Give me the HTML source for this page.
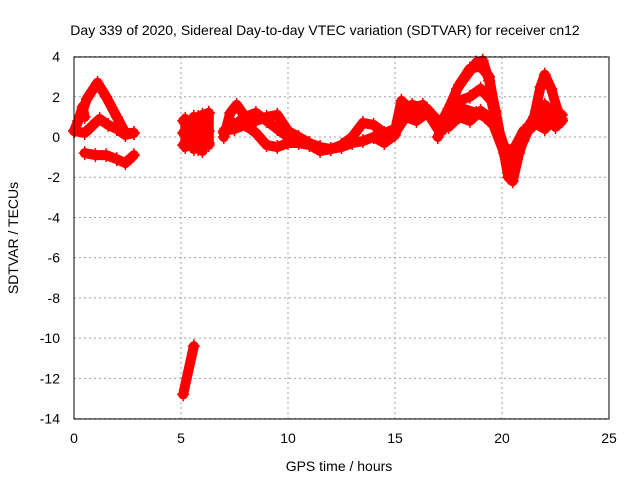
<!DOCTYPE html>
<html><head><meta charset="utf-8"><style>
body{margin:0;background:#fff}
svg{display:block;font-family:"Liberation Sans",sans-serif}
</style></head><body>
<svg id="chart" width="640" height="480">
<rect width="640" height="480" fill="#fff"/>
<text x="325" y="35" font-size="14" text-anchor="middle">Day 339 of 2020, Sidereal Day-to-day VTEC variation (SDTVAR) for receiver cn12</text>
<text x="339" y="471" font-size="14" text-anchor="middle">GPS time / hours</text>
<text transform="translate(18,238) rotate(-90)" font-size="14" text-anchor="middle">SDTVAR / TECUs</text>
<g id="grid"></g><g id="marks"></g>
<rect x="74" y="57" width="535" height="362" fill="none" stroke="#000" stroke-width="1"/>
</svg>
<script>
const xTicks=[0,5,10,15,20,25];
const yTicks=[4,2,0,-2,-4,-6,-8,-10,-12,-14];
const trackNames=['early-upper','early-middle','early-lower','early-spike','block-upper','block-lower','block-mid','day-upper','day-lower','late-upper','late-second','late-lower','outlier','block-v1','block-v2','block-v3','block-v4','day-mid','late-mid','late-third'];
const trackHours=[
[0.3,0.6,1.1,1.5,2.0,2.4,2.8],
[0,0.5,0.8,1.2,1.6,2.0,2.4,2.8],
[0.5,1.0,1.5,2.0,2.4,2.8],
[0,0.2,0.4,0.5],
[5.1,5.5,5.8,6.3],
[5.1,5.5,5.8,6.3],
[5.1,5.6,6.3],
[7.0,7.3,7.6,8.0,8.5,9.0,9.5,10.0,10.5,11,11.5,12,12.5,13,13.5,14,14.5,15],
[7.0,7.5,8.0,8.5,9.0,9.5,10.0,10.5,11,11.5,12,12.5,13,13.5,14,14.5,15],
[15,15.3,15.7,16.3,16.8,17.2,17.5,17.9,18.3,18.8,19.1,19.4,19.7,20.0,20.4,20.6,21.0,21.5,21.8,22.0,22.3,22.6,22.8],
[17.0,17.5,18,18.5,19.0,19.4,19.8,20.2,20.6,21,21.5,22,22.5],
[15,15.5,16,16.5,17,17.5,18,18.5,19,19.5,20,20.3,20.5,20.8,21.2,21.5,22,22.5,22.8],
[5.1,5.6],
[5.2,5.2],[5.6,5.6],[6.0,6.0],[6.3,6.3],
[7.0,7.5,8.0,8.5,9.0,9.5,10.0,10.5],
[15,15.5,16,16.5,17,17.5,18,18.5,19,19.5,20,20.5,21,21.5,22,22.5,22.8],
[15.2,15.8,16.4,17,17.6,18.2,18.8,19.2,19.6,20.1,20.5,20.9,21.4,21.9,22.4,22.8]];
const trackValues=[
[1.0,1.9,2.7,2.0,1.0,0.2,0.2],
[0.3,0.2,0.5,0.9,0.6,0.4,0.1,0.2],
[-0.8,-0.9,-0.9,-1.1,-1.3,-0.9],
[0.3,0.8,1.5,1.0],
[0.8,0.5,1.0,1.2],
[-0.4,-0.2,-0.6,-0.3],
[0.2,0.3,0.3],
[0,1.2,1.6,1.0,0.8,1.0,1.1,0.3,0,-0.3,-0.5,-0.6,-0.4,0,0.7,0.6,0.2,0.4],
[0.3,0.4,0.6,0.2,-0.4,-0.5,-0.3,-0.3,-0.4,-0.7,-0.6,-0.5,-0.3,-0.2,0,-0.3,0.1],
[0.3,1.8,1.4,1.6,0.8,0.3,1.0,2.4,3.0,3.7,3.8,2.8,1.3,-0.4,-1.5,-1.2,-0.2,1.0,2.5,3.1,2.4,1.3,0.8],
[0,1.4,2.6,3.4,3.5,3.0,0.5,-0.8,-0.5,0.3,0.7,0.4,1.0],
[0.2,1.0,0.8,1.2,0.5,0.5,1.0,0.8,1.3,0.9,-0.3,-2.0,-2.2,-0.8,0.5,0.8,1.2,0.5,0.8],
[-12.8,-10.4],
[-0.5,0.9],[-0.6,1.0],[-0.7,1.1],[-0.4,1.2],
[0.2,0.6,1.0,1.2,0.8,0.4,0,-0.2],
[0.4,1.4,1.1,1.4,0.8,1.0,1.8,2.0,2.4,1.8,-0.4,-0.8,0.1,0.6,1.6,1.0,1.1],
[0.6,1.6,1.4,0.4,1.6,1.4,1.2,1.0,0.6,-0.8,-1.0,0,0.8,0.9,0.8,0.9]];
const X=h=>74+h*535/25, Y=v=>137-v*362/18;
const NS='http://www.w3.org/2000/svg';
const grid=document.getElementById('grid'), marks=document.getElementById('marks'), svg=document.getElementById('chart');
xTicks.forEach(t=>{
 const l=document.createElementNS(NS,'line');
 
 
 l.setAttribute('x1',X(t));l.setAttribute('x2',X(t));l.setAttribute('y1',57);l.setAttribute('y2',419);
 l.setAttribute('stroke','#a0a0a0');l.setAttribute('stroke-dasharray','2,3');grid.appendChild(l);
 const s=document.createElementNS(NS,'text');
 
 
 s.setAttribute('x',X(t));s.setAttribute('y',443);s.setAttribute('font-size','14');s.setAttribute('text-anchor','middle');
 s.textContent=t;svg.appendChild(s);
});
yTicks.forEach(t=>{
 const l=document.createElementNS(NS,'line');
 
 
 l.setAttribute('x1',74);l.setAttribute('x2',609);l.setAttribute('y1',Y(t));l.setAttribute('y2',Y(t));
 l.setAttribute('stroke','#a0a0a0');l.setAttribute('stroke-dasharray','2,3');grid.appendChild(l);
 const s=document.createElementNS(NS,'text');
 
 
 s.setAttribute('x',60);s.setAttribute('y',Y(t)+5);s.setAttribute('font-size','14');s.setAttribute('text-anchor','end');
 s.textContent=t;svg.appendChild(s);
});
trackHours.forEach((hs,i)=>{
 const vs=trackValues[i];
 const p=document.createElementNS(NS,'polyline');
 
 
 p.setAttribute('points',hs.map((h,j)=>X(h)+','+Y(vs[j])).join(' '));
 p.setAttribute('fill','none');p.setAttribute('stroke','#ff0000');p.setAttribute('stroke-width','10');p.setAttribute('stroke-linejoin','round');p.setAttribute('stroke-linecap','round');
 marks.appendChild(p);
 hs.forEach((h,j)=>{
  const m=document.createElementNS(NS,'path');
  
  
  const x=X(h),y=Y(vs[j]);
  m.setAttribute('d',`M${x-6},${y}H${x+6}M${x},${y-7}V${y+7}`);
  m.setAttribute('stroke','#ff0000');m.setAttribute('stroke-width','1.5');
  marks.appendChild(m);
 });
});
</script>
</body></html>
